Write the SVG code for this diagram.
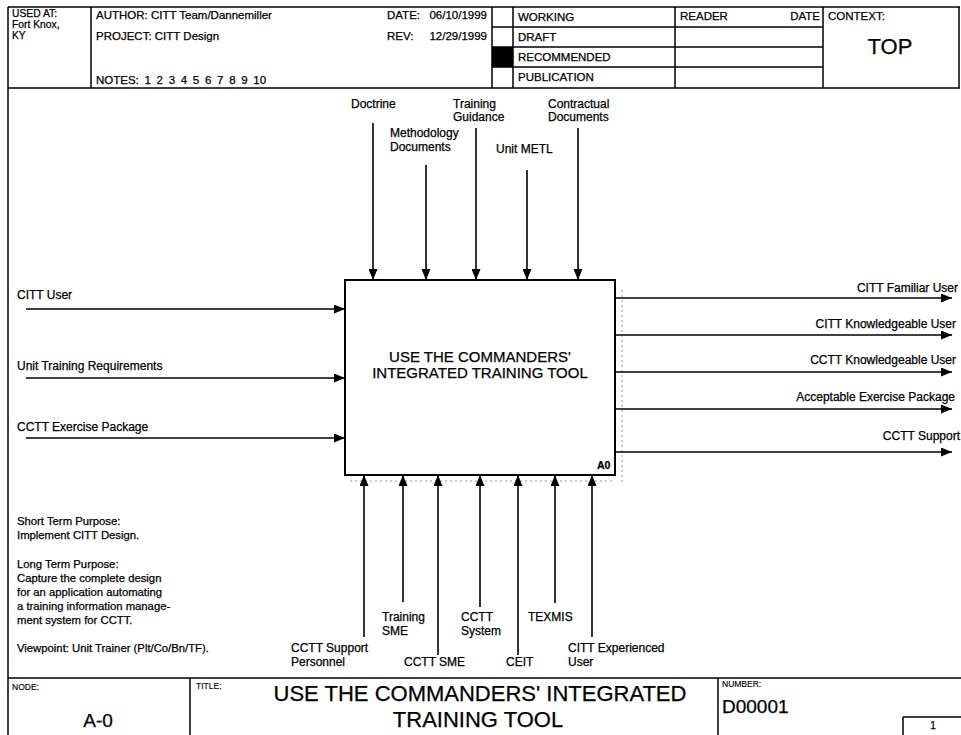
<svg xmlns="http://www.w3.org/2000/svg" width="961" height="735" viewBox="0 0 961 735">
<style>
.t{font-family:"Liberation Sans",Arial,Helvetica,sans-serif;font-size:12px;fill:#000;stroke:#000;stroke-width:0.25}
.h{font-size:11.5px}
.u{font-size:10.3px}
.n{font-size:11.3px}
.s{font-size:8.5px;stroke-width:0.15}
.m{text-anchor:middle}
.e{text-anchor:end}
.fr{stroke:#000;stroke-width:1.5;fill:none}
.ar{stroke:#000;stroke-width:1.6;fill:none;marker-end:url(#ah)}
.dt{stroke:#999;stroke-width:1;stroke-dasharray:2 3;fill:none}
</style>
<defs>
<marker id="ah" viewBox="0 0 11 9" refX="11" refY="4.5" markerWidth="11" markerHeight="9" orient="auto" markerUnits="userSpaceOnUse"><path d="M0,0 L11,4.5 L0,9 z" fill="#000"/></marker>
</defs>
<rect width="961" height="735" fill="#fff"/>

<g id="header">
<path class="fr" d="M8,7 H960 M8,7 V678 M8,88 H960 M959,7 V88 M91,7 V88 M492,7 V88 M513,7 V88 M675,7 V88 M823,7 V88 M492,27 H823 M492,47 H823 M492,67 H823"/>
<rect x="492" y="47" width="21" height="20" fill="#000"/>
<text class="t u" x="12" y="17">USED AT:</text>
<text class="t u" x="12" y="28">Fort Knox,</text>
<text class="t u" x="12" y="39">KY</text>
<text class="t h" x="96" y="19">AUTHOR:  CITT Team/Dannemiller</text>
<text class="t h" x="96" y="40">PROJECT:  CITT Design</text>
<text class="t h" x="96" y="84" style="word-spacing:2.5px">NOTES: 1 2 3 4 5 6 7 8 9 10</text>
<text class="t h" x="387" y="19">DATE:</text>
<text class="t h e" x="487" y="19">06/10/1999</text>
<text class="t h" x="387" y="40">REV:</text>
<text class="t h e" x="487" y="40">12/29/1999</text>
<text class="t h" x="518" y="21">WORKING</text>
<text class="t h" x="518" y="41">DRAFT</text>
<text class="t h" x="518" y="61">RECOMMENDED</text>
<text class="t h" x="518" y="81">PUBLICATION</text>
<text class="t h" x="680" y="20">READER</text>
<text class="t h e" x="820" y="20">DATE</text>
<text class="t h" x="828" y="20">CONTEXT:</text>
<text class="t m" x="890" y="54" style="font-size:22px">TOP</text>
</g>

<g id="A0">
<rect x="345" y="280" width="270" height="195" fill="#fff" stroke="#000" stroke-width="2"/>
<text class="t m" x="480" y="362" style="font-size:15px">USE THE COMMANDERS'</text>
<text class="t m" x="480" y="378" style="font-size:15px">INTEGRATED TRAINING TOOL</text>
<text class="t" x="597" y="469" style="font-size:10.5px;font-weight:bold">A0</text>
</g>

<g id="artifacts">
<path class="dt" d="M622,290 V482 M350,481 H615"/>
</g>

<g id="connectors">
<path class="ar" d="M373,123 V280"/>
<path class="ar" d="M426,165 V280"/>
<path class="ar" d="M476,128 V280"/>
<path class="ar" d="M527,170 V280"/>
<path class="ar" d="M578,128 V280"/>
<path class="ar" d="M26,309 H345"/>
<path class="ar" d="M26,378 H345"/>
<path class="ar" d="M26,438 H345"/>
<path class="ar" d="M615,298 H952"/>
<path class="ar" d="M615,335 H952"/>
<path class="ar" d="M615,372 H952"/>
<path class="ar" d="M615,409 H952"/>
<path class="ar" d="M615,452 H952"/>
<path class="ar" d="M364,637 V475"/>
<path class="ar" d="M403,602 V475"/>
<path class="ar" d="M438,655 V475"/>
<path class="ar" d="M480,607 V475"/>
<path class="ar" d="M518,655 V475"/>
<path class="ar" d="M555,603 V475"/>
<path class="ar" d="M592,637 V475"/>
</g>

<g id="labels">
<text class="t" x="351" y="108">Doctrine</text>
<text class="t" x="390" y="137">Methodology</text>
<text class="t" x="390" y="151">Documents</text>
<text class="t" x="453" y="108">Training</text>
<text class="t" x="453" y="121">Guidance</text>
<text class="t" x="496" y="153">Unit METL</text>
<text class="t" x="548" y="108">Contractual</text>
<text class="t" x="548" y="121">Documents</text>
<text class="t" x="17" y="299">CITT User</text>
<text class="t" x="17" y="370">Unit Training Requirements</text>
<text class="t" x="17" y="431">CCTT Exercise Package</text>
<text class="t e" x="958" y="292">CITT Familiar User</text>
<text class="t e" x="956" y="328">CITT Knowledgeable User</text>
<text class="t e" x="956" y="364">CCTT Knowledgeable User</text>
<text class="t e" x="955" y="401">Acceptable Exercise Package</text>
<text class="t e" x="960" y="440">CCTT Support</text>
<text class="t" x="291" y="652">CCTT Support</text>
<text class="t" x="291" y="666">Personnel</text>
<text class="t" x="382" y="621">Training</text>
<text class="t" x="382" y="635">SME</text>
<text class="t" x="404" y="666">CCTT SME</text>
<text class="t" x="461" y="621">CCTT</text>
<text class="t" x="461" y="635">System</text>
<text class="t" x="506" y="666">CEIT</text>
<text class="t" x="528" y="621">TEXMIS</text>
<text class="t" x="568" y="652">CITT Experienced</text>
<text class="t" x="568" y="666">User</text>
</g>

<g id="notes">
<text class="t n" x="17" y="525">Short Term Purpose:</text>
<text class="t n" x="17" y="539">Implement CITT Design.</text>
<text class="t n" x="17" y="568">Long Term Purpose:</text>
<text class="t n" x="17" y="582">Capture the complete design</text>
<text class="t n" x="17" y="596">for an application automating</text>
<text class="t n" x="17" y="610">a training information manage-</text>
<text class="t n" x="17" y="624">ment system for CCTT.</text>
<text class="t n" x="17" y="652">Viewpoint: Unit Trainer (Plt/Co/Bn/TF).</text>
</g>

<g id="footer">
<path class="fr" d="M8,678 H961 M8,678 V735 M190,678 V735 M718,678 V735 M903,717 V735 M903,717 H961"/>
<text class="t s" x="12" y="690">NODE:</text>
<text class="t m" x="98" y="727" style="font-size:19px">A-0</text>
<text class="t s" x="196" y="689">TITLE:</text>
<text class="t m" x="480" y="701" style="font-size:22px">USE THE COMMANDERS' INTEGRATED</text>
<text class="t m" x="478" y="727" style="font-size:22px">TRAINING TOOL</text>
<text class="t s" x="722" y="687">NUMBER:</text>
<text class="t" x="722" y="713" style="font-size:19px">D00001</text>
<text class="t m" x="933" y="729" style="font-size:10px">1</text>
</g>
</svg>
